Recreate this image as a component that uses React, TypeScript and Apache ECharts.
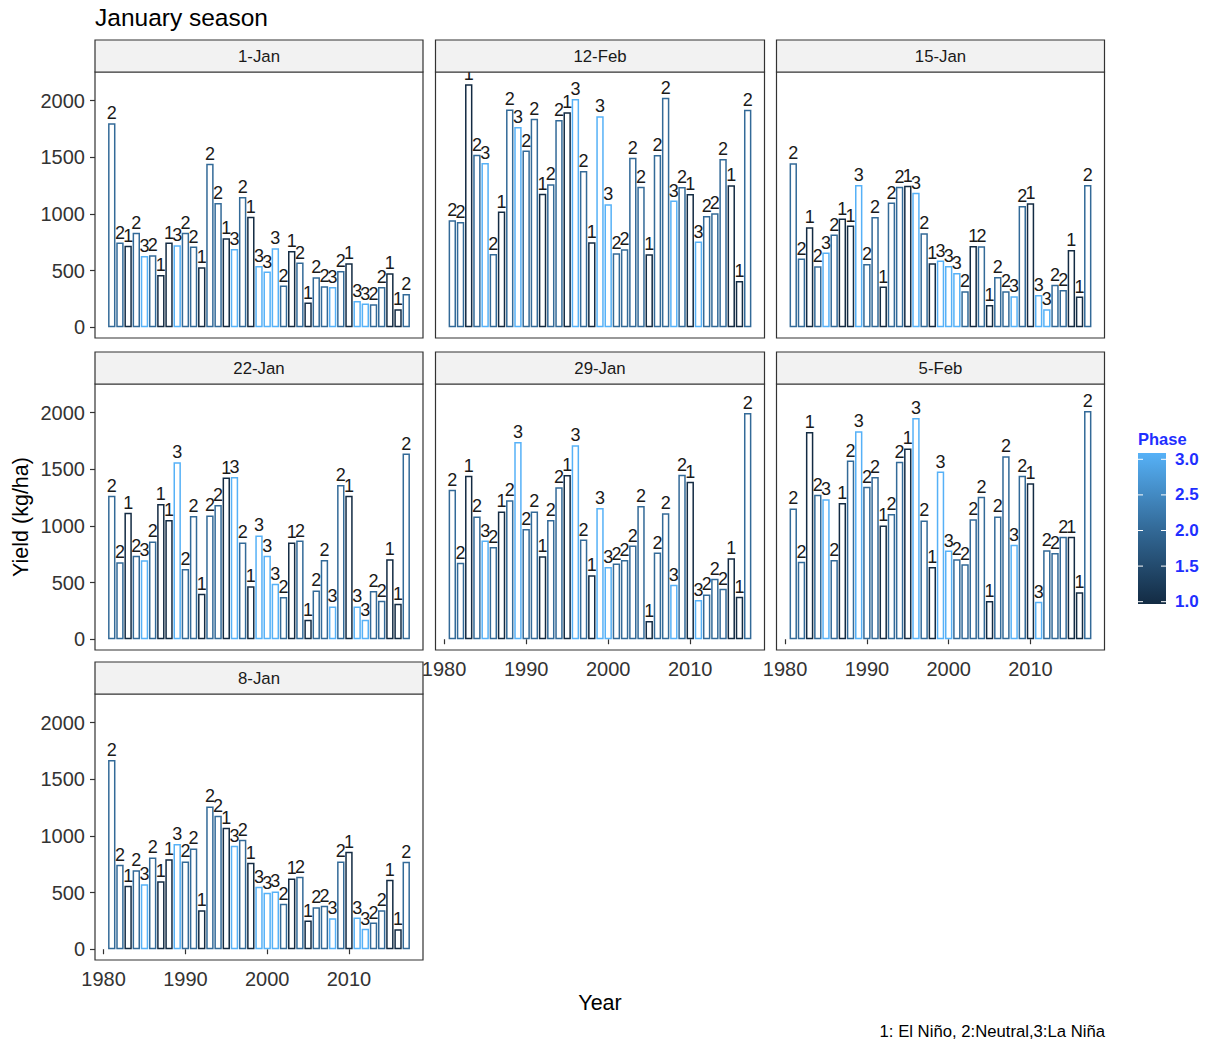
import React, { useEffect, useRef } from "react";
import * as echarts from "echarts";

const years = [1981,1982,1983,1984,1985,1986,1987,1988,1989,1990,1991,1992,1993,1994,1995,1996,1997,1998,1999,2000,2001,2002,2003,2004,2005,2006,2007,2008,2009,2010,2011,2012,2013,2014,2015,2016,2017];

// ENSO phase per year (1: El Niño, 2: Neutral, 3: La Niña)
const phaseA = [2,2,1,2,3,2,1,1,3,2,2,1,2,2,1,3,2,1,3,3,3,2,1,2,1,2,2,3,2,1,3,3,2,2,1,1,2];
const phaseB = [2,2,1,2,3,2,1,2,3,2,2,1,2,2,1,3,2,1,3,3,2,2,2,2,1,2,2,3,2,1,3,2,2,2,1,1,2];

const jan1 = [1800,747,720,835,629,635,462,747,723,835,712,529,1444,1097,785,691,1150,976,541,491,697,368,673,571,218,441,362,356,497,565,232,209,203,356,476,159,294];
const feb12 = [944,929,2144,1523,1450,647,1021,1923,1768,1559,1841,1179,1262,1829,1897,2015,1379,750,1862,1085,653,688,1497,1241,644,1521,2026,1118,1238,1176,756,982,1006,1485,1253,409,1920];
const jan15 = [1447,606,882,538,659,818,959,897,1256,559,973,359,1100,1241,1250,1188,829,565,588,541,479,318,718,715,197,444,318,274,1071,1094,285,159,374,329,682,271,1256];
const jan22 = [1267,679,1117,736,697,863,1193,1052,1563,620,1087,402,1093,1185,1427,1433,854,467,916,736,490,372,854,871,171,431,700,289,1362,1267,289,171,425,340,706,313,1639];
const jan29 = [1320,676,1444,1084,871,815,1128,1226,1740,972,1128,733,1052,1341,1450,1713,880,564,1158,638,668,700,827,1176,160,765,1111,481,1453,1391,346,396,535,446,715,375,1997];
const feb5 = [1155,685,1829,1276,1235,700,1202,1577,1837,1347,1433,1004,1105,1566,1684,1953,1049,638,1480,783,706,662,1060,1258,337,1084,1616,833,1444,1377,331,786,762,904,904,414,2015];
const jan8 = [1670,745,560,698,574,810,601,795,928,775,890,345,1261,1178,1072,913,966,763,551,498,510,401,625,639,253,371,383,274,775,860,280,180,236,345,613,177,772];

const panelNames = ["1-Jan", "12-Feb", "15-Jan", "22-Jan", "29-Jan", "5-Feb", "8-Jan"];
const panelValues = [jan1, feb12, jan15, jan22, jan29, feb5, jan8];
const panelPhases = [phaseA, phaseB, phaseA, phaseA, phaseB, phaseB, phaseA];

const yTicks = [0, 500, 1000, 1500, 2000];
const xTicks = [1980, 1990, 2000, 2010];
const legendTicks = [3.0, 2.5, 2.0, 1.5, 1.0];

const FONT = "'Liberation Sans', Arial, Helvetica, sans-serif";
const phaseColor: Record<number, string> = { 1: "#132B43", 2: "#336A98", 3: "#56B1F7" };

const colLeft = [95, 435.5, 776.5];
const colWidth = [328, 329, 328];
const rowTop = [72, 384, 694];
const plotH = 266;
const stripH = 32;

export default function App() {
  const ref = useRef<HTMLDivElement>(null);
  useEffect(() => {
    document.body.style.margin = "0";
    if (!ref.current) return;
    const chart = echarts.init(ref.current, undefined, { renderer: "svg" });

    const grids: any[] = [];
    const xAxes: any[] = [];
    const yAxes: any[] = [];
    const series: any[] = [];
    const graphics: any[] = [];

    panelNames.forEach((name, i) => {
      const row = Math.floor(i / 3);
      const col = i % 3;
      const left = colLeft[col];
      const width = colWidth[col];
      const top = rowTop[row];
      const showX = i >= 4;
      const showY = col === 0;
      grids.push({
        left, top, width, height: plotH,
        show: true, borderColor: "#333", borderWidth: 1.2, backgroundColor: "#fff",
        containLabel: false,
      });
      xAxes.push({
        type: "value", gridIndex: i, min: 1978.95, max: 2019.05,
        splitLine: { show: false }, axisLine: { show: false },
        axisTick: { show: showX, length: 5, lineStyle: { color: "#333", width: 1.2 }, customValues: xTicks },
        axisLabel: {
          show: showX, customValues: xTicks, fontSize: 20, color: "#333", margin: 9, fontFamily: FONT,
          formatter: (v: number) => String(v),
        },
      });
      yAxes.push({
        type: "value", gridIndex: i, min: -95, max: 2253,
        splitLine: { show: false }, axisLine: { show: false },
        axisTick: { show: showY, length: 5, lineStyle: { color: "#333", width: 1.2 }, customValues: yTicks },
        axisLabel: {
          show: showY, customValues: yTicks, fontSize: 20, color: "#333", margin: 10, fontFamily: FONT,
          formatter: (v: number) => String(v),
        },
      });
      const vals = panelValues[i];
      const ph = panelPhases[i];
      series.push({
        type: "bar", xAxisIndex: i, yAxisIndex: i, barWidth: 7.4,
        data: years.map((y, k) => ({
          value: [y, vals[k]],
          itemStyle: { color: "rgba(255,255,255,0)", borderColor: phaseColor[ph[k]], borderWidth: 1.5 },
        })),
        label: {
          show: true, position: "top", distance: 1,
          formatter: (p: any) => String(ph[p.dataIndex]),
          fontSize: 18, color: "#1a1a1a", fontFamily: FONT,
        },
      });
      graphics.push({
        type: "rect", z: 100,
        shape: { x: left, y: top - stripH, width, height: stripH },
        style: { fill: "#f2f2f2", stroke: "#333", lineWidth: 1.2 },
      });
      graphics.push({
        type: "text", z: 101, x: left + width / 2, y: top - stripH / 2,
        style: { text: name, fontSize: 16.8, fill: "#1a1a1a", align: "center", verticalAlign: "middle", fontFamily: FONT },
      });
    });

    graphics.push({
      type: "text", z: 101, x: 95, y: 17,
      style: { text: "January season", fontSize: 24.5, fill: "#000", align: "left", verticalAlign: "middle", fontFamily: FONT },
    });
    graphics.push({
      type: "text", z: 101, x: 600, y: 1003,
      style: { text: "Year", fontSize: 21.5, fill: "#000", align: "center", verticalAlign: "middle", fontFamily: FONT },
    });
    graphics.push({
      type: "text", z: 101, x: 21, y: 517, rotation: Math.PI / 2,
      style: { text: "Yield (kg/ha)", fontSize: 21.5, fill: "#000", align: "center", verticalAlign: "middle", fontFamily: FONT },
    });
    graphics.push({
      type: "text", z: 101, x: 1105, y: 1031,
      style: { text: "1: El Niño, 2:Neutral,3:La Niña", fontSize: 16.7, fill: "#000", align: "right", verticalAlign: "middle", fontFamily: FONT },
    });

    // Legend (colour bar)
    const lx = 1138, ly = 453, lw = 28, lh = 151;
    graphics.push({
      type: "text", z: 101, x: lx, y: 439,
      style: { text: "Phase", fontSize: 16.5, fontWeight: "bold", fill: "#1f2fff", align: "left", verticalAlign: "middle", fontFamily: FONT },
    });
    graphics.push({
      type: "rect", z: 100,
      shape: { x: lx, y: ly, width: lw, height: lh },
      style: {
        fill: {
          type: "linear", x: 0, y: 0, x2: 0, y2: 1,
          colorStops: [
            { offset: 0, color: "#56B1F7" },
            { offset: 0.5, color: "#336A98" },
            { offset: 1, color: "#132B43" },
          ],
        },
      },
    });
    legendTicks.forEach((v) => {
      const ty = 459.3 + (3 - v) * 71.2;
      graphics.push({ type: "line", z: 101, shape: { x1: lx, y1: ty, x2: lx + 5, y2: ty }, style: { stroke: "#fff", lineWidth: 1 } });
      graphics.push({ type: "line", z: 101, shape: { x1: lx + lw - 5, y1: ty, x2: lx + lw, y2: ty }, style: { stroke: "#fff", lineWidth: 1 } });
      graphics.push({
        type: "text", z: 101, x: lx + lw + 9, y: ty,
        style: { text: v.toFixed(1), fontSize: 17, fontWeight: "bold", fill: "#1f2fff", align: "left", verticalAlign: "middle", fontFamily: FONT },
      });
    });

    chart.setOption({
      animation: false,
      backgroundColor: "#fff",
      textStyle: { fontFamily: FONT },
      grid: grids,
      xAxis: xAxes,
      yAxis: yAxes,
      series,
      graphic: graphics,
    });
    return () => chart.dispose();
  }, []);
  return <div ref={ref} style={{ width: 1207, height: 1044 }} />;
}
